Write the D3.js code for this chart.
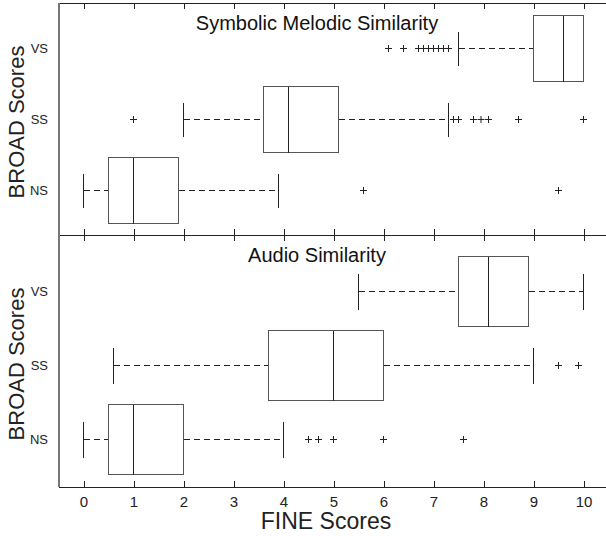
<!DOCTYPE html>
<html>
<head>
<meta charset="utf-8">
<script src="https://cdn.jsdelivr.net/npm/d3@7"></script>
<style>
  body { margin: 0; background: #fff; }
  svg { font-family: Arial, "Liberation Sans", sans-serif; }
</style>
</head>
<body>
<script>
// broad categories, bottom to top
var broad = ['NS', 'SS', 'VS'];
var fineTicks = [0, 1, 2, 3, 4, 5, 6, 7, 8, 9, 10];

// Symbolic melodic similarity: box stats per category (NS, SS, VS)
var symLow  = [0, 2.0, 7.5];
var symQ1   = [0.5, 3.6, 9.0];
var symMed  = [1.0, 4.1, 9.6];
var symQ3   = [1.9, 5.1, 10];
var symHigh = [3.9, 7.3, 10];
var symOut  = [[5.6, 9.5],
               [1.0, 7.4, 7.5, 7.8, 7.95, 8.1, 8.7, 10],
               [6.1, 6.4, 6.7, 6.8, 6.9, 7.0, 7.1, 7.2, 7.3]];

// Audio similarity
var audLow  = [0, 0.6, 5.5];
var audQ1   = [0.5, 3.7, 7.5];
var audMed  = [1.0, 5.0, 8.1];
var audQ3   = [2.0, 6.0, 8.9];
var audHigh = [4.0, 9.0, 10];
var audOut  = [[4.5, 4.7, 5.0, 6.0, 7.6],
               [9.5, 9.9],
               []];

var w = 606, h = 536;
var left = 59;

var svg = d3.select('body').append('svg')
            .attr('width', w)
            .attr('height', h);

var xScale = d3.scaleLinear().domain([0, 10]).range([83.5, 583.5]);

function makeRows(low, q1, med, q3, high, out) {
    return broad.map(function(b, i) {
        return {cat: b, idx: i + 1, low: low[i], q1: q1[i], med: med[i],
                q3: q3[i], high: high[i], out: out[i]};
    });
}

var panels = [
    {title: 'Symbolic Melodic Similarity', top: 3, bottom: 235, y1: 190.5, y3: 48.5,
     rows: makeRows(symLow, symQ1, symMed, symQ3, symHigh, symOut)},
    {title: 'Audio Similarity', top: 235, bottom: 487, y1: 439.5, y3: 291.5,
     rows: makeRows(audLow, audQ1, audMed, audQ3, audHigh, audOut)}
];

var stroke = '#222';
var font = 'Arial, "Liberation Sans", sans-serif';

panels.forEach(function(p, pi) {
    var yScale = d3.scaleLinear().domain([1, 3]).range([p.y1, p.y3]);
    var unit = Math.abs(yScale(2) - yScale(1));
    var boxH = Math.round(unit * 0.47);
    var capH = Math.round(unit * 0.245);
    var g = svg.append('g');

    // frame lines
    g.append('line').attr('x1', left).attr('x2', w).attr('y1', p.top).attr('y2', p.top)
     .attr('stroke', stroke).attr('shape-rendering', 'crispEdges');
    g.append('line').attr('x1', left).attr('x2', w).attr('y1', p.bottom).attr('y2', p.bottom)
     .attr('stroke', stroke).attr('shape-rendering', 'crispEdges');
    g.append('line').attr('x1', left).attr('x2', left).attr('y1', p.top).attr('y2', p.bottom)
     .attr('stroke', '#777').attr('stroke-width', 2).attr('shape-rendering', 'crispEdges');

    // inward ticks top and bottom
    var axTop = g.append('g').attr('transform', 'translate(0,' + p.top + ')')
                 .call(d3.axisTop(xScale).tickValues(fineTicks).tickSizeInner(-6)
                       .tickSizeOuter(0).tickFormat(''));
    var axBot = g.append('g').attr('transform', 'translate(0,' + p.bottom + ')')
                 .call(d3.axisBottom(xScale).tickValues(fineTicks).tickSizeInner(-6)
                       .tickSizeOuter(0).tickPadding(9)
                       .tickFormat(pi === 1 ? d3.format('d') : ''));
    [axTop, axBot].forEach(function(a) {
        a.select('.domain').remove();
        a.selectAll('line').attr('stroke', stroke).attr('shape-rendering', 'crispEdges');
        a.selectAll('text').attr('font-size', 15).attr('fill', '#222')
         .attr('font-family', font);
    });

    // category labels
    var axLeft = g.append('g').attr('transform', 'translate(' + (left - 11) + ',0)')
                  .call(d3.axisLeft(yScale).tickValues([1, 2, 3]).tickSize(0).tickPadding(0)
                        .tickFormat(function(d) { return broad[d - 1]; }));
    axLeft.select('.domain').remove();
    axLeft.selectAll('text').attr('font-size', 13).attr('fill', '#222')
          .attr('font-family', font);

    // title
    g.append('text').attr('x', 317).attr('y', p.top + 27)
     .attr('text-anchor', 'middle').attr('font-size', 20).attr('fill', '#111')
     .text(p.title);

    // y axis title
    var cy = (p.top + p.bottom) / 2 + 3;
    g.append('text').attr('transform', 'translate(24,' + cy + ') rotate(-90)')
     .attr('text-anchor', 'middle').attr('font-size', 22).attr('fill', '#222')
     .text('BROAD Scores');

    var rows = g.selectAll('g.row').data(p.rows).enter().append('g').attr('class', 'row');

    // dashed whiskers
    rows.append('line')
        .attr('x1', function(d) { return xScale(d.low); })
        .attr('x2', function(d) { return xScale(d.q1); })
        .attr('y1', function(d) { return yScale(d.idx); })
        .attr('y2', function(d) { return yScale(d.idx); })
        .attr('stroke', stroke).attr('stroke-dasharray', '6.5,3.5')
        .attr('shape-rendering', 'crispEdges');
    rows.append('line')
        .attr('x1', function(d) { return xScale(d.q3); })
        .attr('x2', function(d) { return xScale(d.high); })
        .attr('y1', function(d) { return yScale(d.idx); })
        .attr('y2', function(d) { return yScale(d.idx); })
        .attr('stroke', stroke).attr('stroke-dasharray', '6.5,3.5')
        .attr('shape-rendering', 'crispEdges');

    // whisker caps
    ['low', 'high'].forEach(function(k) {
        rows.append('line')
            .attr('x1', function(d) { return xScale(d[k]); })
            .attr('x2', function(d) { return xScale(d[k]); })
            .attr('y1', function(d) { return yScale(d.idx) - capH; })
            .attr('y2', function(d) { return yScale(d.idx) + capH; })
            .attr('stroke', stroke).attr('shape-rendering', 'crispEdges');
    });

    // boxes
    rows.append('rect')
        .attr('x', function(d) { return xScale(d.q1); })
        .attr('width', function(d) { return xScale(d.q3) - xScale(d.q1); })
        .attr('y', function(d) { return yScale(d.idx) - boxH; })
        .attr('height', 2 * boxH)
        .attr('fill', 'none').attr('stroke', '#555').attr('shape-rendering', 'crispEdges');

    // medians
    rows.append('line')
        .attr('x1', function(d) { return xScale(d.med); })
        .attr('x2', function(d) { return xScale(d.med); })
        .attr('y1', function(d) { return yScale(d.idx) - boxH; })
        .attr('y2', function(d) { return yScale(d.idx) + boxH; })
        .attr('stroke', stroke).attr('shape-rendering', 'crispEdges');

    // outliers as plus marks
    var outs = [];
    p.rows.forEach(function(r) {
        r.out.forEach(function(v) { outs.push({v: v, idx: r.idx}); });
    });
    g.selectAll('path.out').data(outs).enter().append('path')
     .attr('class', 'out')
     .attr('transform', function(d) {
         return 'translate(' + xScale(d.v) + ',' + yScale(d.idx) + ')';
     })
     .attr('d', 'M-3.5,0H3.5M0,-3.5V3.5')
     .attr('fill', 'none').attr('stroke', stroke);
});

// x axis title
svg.append('text').attr('x', 326).attr('y', 529)
   .attr('text-anchor', 'middle').attr('font-size', 23).attr('fill', '#222')
   .text('FINE Scores');
</script>
</body>
</html>
